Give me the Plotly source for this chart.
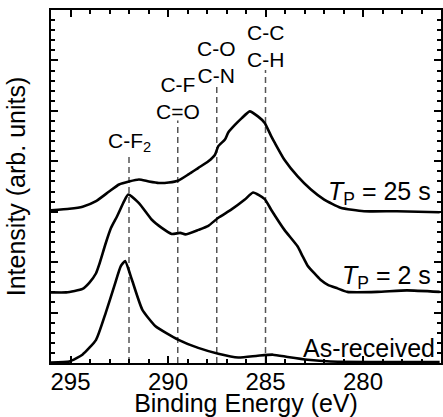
import plotly.graph_objects as go

# Binding energy (eV) and intensity (arb. units, offset) for each spectrum
be_asrec = [296.0, 295.05, 294.39, 293.69, 293.19, 292.76, 292.42, 292.2, 291.85, 291.32,
            290.64, 289.46, 288.45, 287.42, 286.4, 285.4, 284.62, 283.86, 282.84, 281.67, 276.07]
int_asrec = [0.01, 0.03, 0.165, 0.46, 1.0, 1.52, 1.92, 2.02, 1.65, 1.06,
             0.73, 0.46, 0.30, 0.185, 0.11, 0.145, 0.165, 0.12, 0.065, 0.03, 0.02]

be_2s = [296.0, 295.22, 294.38, 294.04, 293.69, 293.53, 293.19, 292.92, 292.61, 292.25, 292.04, 291.49,
         290.83, 290.32, 289.81, 289.37, 289.11, 288.44, 287.93, 287.42, 286.76, 286.06,
         285.64, 285.04, 284.71, 284.03, 283.35, 283.1, 282.84, 282.5, 282.18, 281.8,
         281.31, 280.8, 279.27, 277.75, 276.07]
int_2s = [1.40, 1.40, 1.47, 1.59, 1.78, 1.95, 2.38, 2.68, 2.91, 3.21, 3.34, 3.17,
          2.84, 2.68, 2.56, 2.58, 2.55, 2.64, 2.72, 2.88, 3.04, 3.24,
          3.38, 3.25, 3.04, 2.64, 2.31, 2.12, 1.93, 1.78, 1.65, 1.55,
          1.48, 1.41, 1.41, 1.44, 1.41]

be_25s = [296.0, 295.05, 294.38, 293.69, 293.02, 292.51, 292.0, 291.49, 290.98, 290.47,
          289.96, 289.46, 288.95, 288.44, 287.93, 287.59, 287.42, 287.08, 286.91, 286.57,
          286.23, 285.81, 285.39, 285.04, 284.71, 284.53, 284.03, 283.35, 282.67, 281.99,
          281.15, 279.95, 278.26, 276.07]
int_25s = [3.03, 3.06, 3.10, 3.21, 3.40, 3.54, 3.60, 3.64, 3.60, 3.57,
           3.58, 3.62, 3.74, 3.87, 4.00, 4.13, 4.30, 4.43, 4.57, 4.72,
           4.85, 4.99, 4.89, 4.76, 4.50, 4.37, 4.03, 3.70, 3.44, 3.24,
           3.08, 3.01, 3.01, 2.99]

# Reference peak positions, the tops of their dashed markers and labels
peak_be = [292.0, 289.5, 287.5, 285.0]
peak_top = [4.13, 4.81, 5.49, 5.81]
peak_label = ["C-F<sub>2</sub>", "C-F<br>C=O", "C-O<br>C-N", "C-C<br>C-H"]
peak_label_y = [4.39, 5.25, 5.96, 6.28]

series_labels = ["<i>T</i><sub>P</sub> = 25 s", "<i>T</i><sub>P</sub> = 2 s", "As-received"]
series_label_x = [276.43, 276.43, 276.18]
series_label_y = [3.38, 1.71, 0.30]

FONT = "Arial, Liberation Sans, Helvetica, sans-serif"

fig = go.Figure()

for xb, yt in zip(peak_be, peak_top):
    fig.add_trace(go.Scatter(x=[xb, xb], y=[0, yt], mode="lines",
                             line=dict(color="#555555", width=1.5, dash="6px,4px"),
                             showlegend=False, hoverinfo="skip"))

for xs, ys in [(be_asrec, int_asrec), (be_2s, int_2s), (be_25s, int_25s)]:
    fig.add_trace(go.Scatter(x=xs, y=ys, mode="lines",
                             line=dict(color="black", width=2.6, shape="spline", smoothing=0.5),
                             showlegend=False))

for xb, yl, txt in zip(peak_be, peak_label_y, peak_label):
    fig.add_annotation(x=xb, y=yl, text=txt, showarrow=False, xanchor="center", yanchor="middle",
                       font=dict(family=FONT, size=21, color="black"))

for xl, yl, txt in zip(series_label_x, series_label_y, series_labels):
    fig.add_annotation(x=xl, y=yl, text=txt, showarrow=False, xanchor="right", yanchor="middle",
                       font=dict(family=FONT, size=25, color="black"))

fig.update_layout(
    width=443, height=417,
    margin=dict(l=51, r=0, t=10, b=54),
    paper_bgcolor="white", plot_bgcolor="white",
    font=dict(family=FONT, size=25, color="black"),
    xaxis=dict(range=[296, 276], showgrid=False, zeroline=False,
               showline=True, linecolor="black", linewidth=2, mirror="allticks",
               ticks="inside", ticklen=7, tickwidth=2, tickcolor="black",
               tick0=280, dtick=5, ticklabelstandoff=-4,
               minor=dict(ticks="inside", ticklen=4, tickwidth=2, tickcolor="black", dtick=1, showgrid=False),
               tickfont=dict(family=FONT, size=24),
               title=dict(text="Binding Energy (eV)", font=dict(family=FONT, size=25), standoff=4)),
    yaxis=dict(range=[0, 7], showgrid=False, zeroline=False,
               showline=True, linecolor="black", linewidth=2, mirror="allticks",
               ticks="inside", ticklen=7, tickwidth=2, tickcolor="black",
               tick0=0, dtick=1, showticklabels=False,
               minor=dict(ticks="inside", ticklen=4, tickwidth=2, tickcolor="black", dtick=0.2, showgrid=False),
               title=dict(text="Intensity (arb. units)", font=dict(family=FONT, size=25), standoff=16)),
)

fig.write_html("out.html", config={"displayModeBar": False},
               post_script="document.body.style.margin='0';document.body.style.overflow='hidden';")
